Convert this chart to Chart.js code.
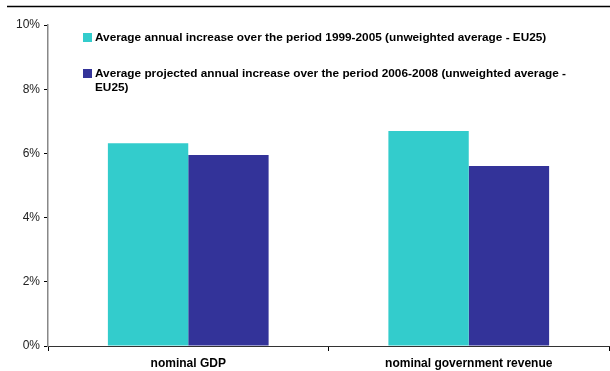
<!DOCTYPE html>
<html>
<head>
<meta charset="utf-8">
<script src="https://cdn.jsdelivr.net/npm/chart.js@4"></script>
<style>
  html, body { margin: 0; padding: 0; background: #fff; }
  #wrap { width: 610px; height: 371px; position: relative; }
</style>
</head>
<body>
<div id="wrap"><canvas id="myChart"></canvas></div>
<script>
const categories = ['nominal GDP', 'nominal government revenue'];
const seriesNames = [
	'Average annual increase over the period 1999-2005 (unweighted average - EU25)',
	'Average projected annual increase over the period 2006-2008 (unweighted average - EU25)',
];
const past = [6.32, 6.7];
const projected = [5.95, 5.61];
const yTicks = [0, 2, 4, 6, 8, 10];

const FONT = 'Arial, "Liberation Sans", sans-serif';

// legend drawn inside the plot, wrapped to the plot width
const boxLegend = {
	id: 'boxLegend',
	afterDraw(chart) {
		const ctx = chart.ctx;
		const x0 = 83, maxW = 492;
		const rows = [33, 69];
		ctx.save();
		ctx.font = 'bold 11.8px ' + FONT;
		ctx.textBaseline = 'top';
		chart.data.datasets.forEach((ds, i) => {
			const y = rows[i];
			ctx.fillStyle = ds.backgroundColor;
			ctx.fillRect(x0, y, 9, 9);
			ctx.fillStyle = '#000';
			const words = ds.label.split(' ');
			let line = '', ly = y - 1;
			words.forEach((w) => {
				const test = line ? line + ' ' + w : w;
				if (ctx.measureText(test).width > maxW && line) {
					ctx.fillText(line, x0 + 12, ly);
					line = w;
					ly += 14;
				} else {
					line = test;
				}
			});
			ctx.fillText(line, x0 + 12, ly);
		});
		// rule across the top
		ctx.strokeStyle = '#000';
		ctx.lineWidth = 1.5;
		ctx.beginPath();
		ctx.moveTo(7, 6.5);
		ctx.lineTo(610, 6.5);
		ctx.stroke();
		ctx.restore();
	},
};

const ctx = document.getElementById('myChart');
new Chart(ctx, {
	type: 'bar',
	data: {
		labels: categories,
		datasets: [
			{ label: seriesNames[0], data: past, backgroundColor: '#33CCCC' },
			{ label: seriesNames[1], data: projected, backgroundColor: '#333399' },
		],
	},
	options: {
		responsive: true,
		maintainAspectRatio: false,
		animation: false,
		layout: { padding: { top: 25, right: 1, left: 0, bottom: 0 } },
		datasets: { bar: { barPercentage: 1, categoryPercentage: 0.573 } },
		plugins: { legend: { display: false }, tooltip: { enabled: false } },
		scales: {
			x: {
				grid: { offset: true, drawOnChartArea: false, tickLength: 5, color: '#000' },
				border: { color: '#333', width: 1 },
				ticks: { font: { family: FONT, size: 12, weight: 'bold' }, color: '#000', padding: 5, maxRotation: 0 },
				afterFit(scale) { scale.height = 25; },
			},
			y: {
				min: 0,
				max: 10,
				afterBuildTicks(scale) { scale.ticks = yTicks.map((v) => ({ value: v })); },
				grid: { drawOnChartArea: false, tickLength: 4, color: '#000' },
				border: { color: '#888', width: 1.5 },
				ticks: {
					font: { family: FONT, size: 12 },
					color: '#222',
					padding: 4,
					callback: (v) => v + '%',
				},
				afterFit(scale) { scale.width = 48; },
			},
		},
	},
	plugins: [boxLegend],
});
</script>
</body>
</html>
